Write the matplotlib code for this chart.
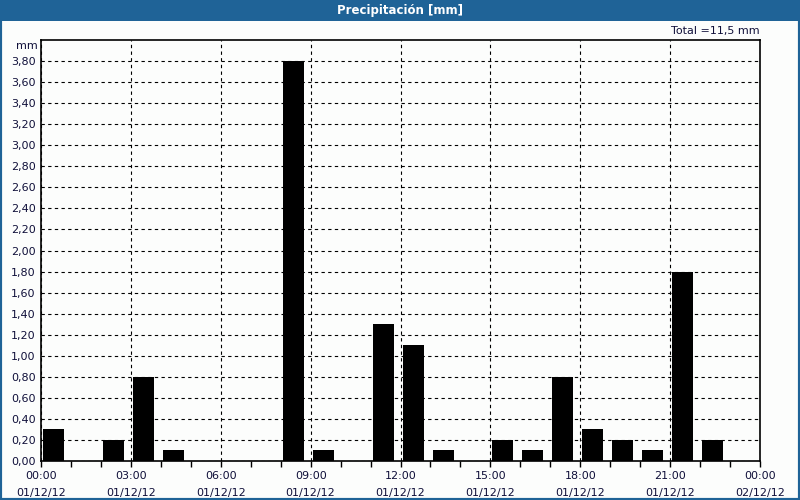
import matplotlib
matplotlib.use("Agg")
import matplotlib.pyplot as plt
from matplotlib.patches import Rectangle
import numpy as np

hours = list(range(24))
precip = [0.3, 0.0, 0.2, 0.8, 0.1, 0.0, 0.0, 0.0, 3.8, 0.1, 0.0, 1.3,
          1.1, 0.1, 0.0, 0.2, 0.1, 0.8, 0.3, 0.2, 0.1, 1.8, 0.2, 0.0]
xtick_hours = [0, 3, 6, 9, 12, 15, 18, 21, 24]
xtick_labels = ["00:00\n01/12/12", "03:00\n01/12/12", "06:00\n01/12/12",
                "09:00\n01/12/12", "12:00\n01/12/12", "15:00\n01/12/12",
                "18:00\n01/12/12", "21:00\n01/12/12", "00:00\n02/12/12"]
yticks = [round(0.2 * i, 2) for i in range(20)]
title = "Precipitación [mm]"
total_text = "Total =11,5 mm"

TXT = "#10103a"
BLUE = "#1f6397"

fig = plt.figure(figsize=(8, 5), dpi=100)
fig.patch.set_facecolor("#fcfdfc")

# window border and title bar
fig.patches.append(Rectangle((0, 0), 1, 1, transform=fig.transFigure,
                             fill=False, edgecolor=BLUE, linewidth=3, zorder=10))
fig.patches.append(Rectangle((0, 1 - 21 / 500), 1, 21 / 500, transform=fig.transFigure,
                             facecolor=BLUE, edgecolor="none", zorder=9))
fig.text(0.5, 1 - 10.5 / 500, title, color="white", fontsize=8.5, fontweight="bold",
         ha="center", va="center", zorder=11)

ax = fig.add_axes([41 / 800, 39 / 500, (760 - 41) / 800, (460 - 39) / 500])
ax.set_facecolor("#fcfdfc")

ax.bar([h + 0.07 for h in hours], precip, width=0.7, align="edge",
       color="black", edgecolor="black", linewidth=0, zorder=3)

ax.set_xlim(0, 24)
ax.set_ylim(0, 4.0)
ax.set_xticks(xtick_hours)
ax.set_xticklabels(xtick_labels, fontsize=8, color=TXT, linespacing=1.85)
ax.set_xticks(hours, minor=True)
ax.set_yticks(yticks)
ax.set_yticklabels([f"{v:.2f}".replace(".", ",") for v in yticks], fontsize=8, color=TXT)

ax.tick_params(axis="x", which="both", direction="out", length=4, width=1, color="black", pad=3)
ax.tick_params(axis="y", which="both", length=0, pad=4)

ax.grid(True, axis="y", linestyle=(0, (3, 3)), color="black", linewidth=0.8, zorder=1)
ax.grid(True, axis="x", which="major", linestyle=(0, (3, 3)), color="black", linewidth=0.8, zorder=1)
ax.set_axisbelow(True)

for s in ax.spines.values():
    s.set_color("black")
    s.set_linewidth(1.2)

ax.text(-0.005, 0.997, "mm", transform=ax.transAxes, ha="right", va="top",
        fontsize=8, color=TXT)
ax.text(1.0, 1.01, total_text, transform=ax.transAxes, ha="right", va="bottom",
        fontsize=8, color=TXT)

fig.savefig("out.png", dpi=100, facecolor=fig.get_facecolor())
